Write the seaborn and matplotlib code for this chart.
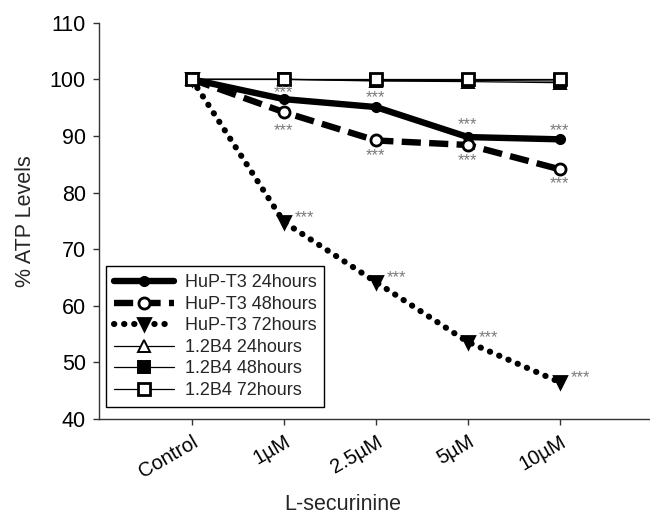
import numpy as np
import pandas as pd
import matplotlib
matplotlib.use("Agg")
import matplotlib.pyplot as plt
import seaborn as sns

# doses of L-securinine on the x axis
doses = ["Control", "1\u00b5M", "2.5\u00b5M", "5\u00b5M", "10\u00b5M"]

# % ATP levels
hup_24 = [100, 96.5, 95.1, 89.8, 89.4]
hup_48 = [100, 94.2, 89.2, 88.4, 84.1]
hup_72 = [100, 74.8, 64.2, 53.6, 46.5]
b4_24 = [100, 100, 99.7, 99.6, 99.4]
b4_48 = [100, 100, 99.8, 99.8, 99.7]
b4_72 = [100, 100, 100, 100, 100]

labels = ["HuP-T3 24hours", "HuP-T3 48hours", "HuP-T3 72hours",
          "1.2B4 24hours", "1.2B4 48hours", "1.2B4 72hours"]
sig = "***"

sns.set_theme(style="ticks")
plt.rcParams["font.family"] = ["Liberation Sans", "DejaVu Sans"]

fig = plt.figure(figsize=(6.5, 5.15), dpi=100)
ax = fig.add_axes([99 / 650, 1 - 419 / 515, 551 / 650, (419 - 22.7) / 515])

xpos = np.arange(len(doses))

styles = [
    dict(color="black", lw=4.6, linestyle="-", marker="o", markersize=7,
         markerfacecolor="black", markeredgecolor="black", markeredgewidth=1),
    dict(color="black", lw=4.6, linestyle=(0, (3.0, 1.3)), marker="o", markersize=8,
         markerfacecolor="white", markeredgecolor="black", markeredgewidth=2),
    dict(color="black", lw=4.4, linestyle=(0, (0.05, 1.6)), dash_capstyle="round",
         marker="v", markersize=8, markerfacecolor="black", markeredgecolor="black",
         markeredgewidth=2),
    dict(color="black", lw=0.9, linestyle="-", marker="^", markersize=8,
         markerfacecolor="white", markeredgecolor="black", markeredgewidth=1.4),
    dict(color="black", lw=0.9, linestyle="-", marker="s", markersize=8,
         markerfacecolor="black", markeredgecolor="black", markeredgewidth=1.4),
    dict(color="black", lw=0.9, linestyle="-", marker="s", markersize=8,
         markerfacecolor="white", markeredgecolor="black", markeredgewidth=2),
]

for vals, lab, st in zip([hup_24, hup_48, hup_72, b4_24, b4_48, b4_72], labels, styles):
    df = pd.DataFrame({"dose": xpos, "atp": vals})
    sns.lineplot(data=df, x="dose", y="atp", ax=ax, label=lab, **st)

# significance stars
star_kw = dict(textcoords="offset points", fontsize=12, color="#7a7a7a",
               ha="center", va="center")
for i in range(1, 5):
    ax.annotate(sig, (xpos[i], hup_24[i]), xytext=(0, [5, 7, 9, 6][i - 1]), **star_kw)
    ax.annotate(sig, (xpos[i], hup_48[i]), xytext=(0, [-13, -11, -11, -10][i - 1]), **star_kw)
    ax.annotate(sig, (xpos[i], hup_72[i]), xytext=(15, 3), **star_kw)

ax.set_xlim(-1.01, 4.98)
ax.set_ylim(40, 110)
ax.set_yticks(np.arange(40, 111, 10))
ax.set_xticks(xpos)
ax.set_xticklabels(doses, rotation=30, ha="right", rotation_mode="anchor", fontsize=14.5)
ax.tick_params(axis="y", labelsize=15.5)
ax.tick_params(axis="both", direction="out", length=4.5, width=1, color="#333333",
               labelcolor="black", pad=5)
ax.set_ylabel("% ATP Levels", fontsize=15.5, labelpad=10)
ax.set_xlabel("L-securinine", fontsize=15.5, labelpad=6)
ax.xaxis.set_label_coords(0.443, -0.19)

sns.despine(ax=ax)
for sp in ["left", "bottom"]:
    ax.spines[sp].set_color("#333333")
    ax.spines[sp].set_linewidth(1)

leg = ax.legend(loc="lower left", bbox_to_anchor=(0.0127, 0.030), borderaxespad=0,
                fontsize=13, frameon=True, fancybox=False, edgecolor="black",
                framealpha=1, numpoints=1, handlelength=3.3, handletextpad=0.6,
                labelspacing=0.25, borderpad=0.45)
leg.get_frame().set_linewidth(1)

fig.savefig("out.png", dpi=100)
